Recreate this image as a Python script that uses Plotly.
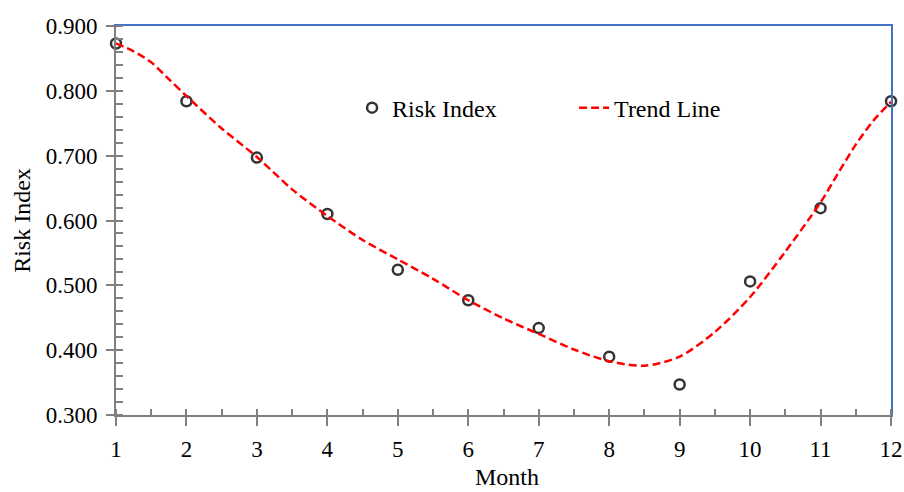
import plotly.graph_objects as go

months = [1, 2, 3, 4, 5, 6, 7, 8, 9, 10, 11, 12]
risk_index = [0.873, 0.784, 0.697, 0.610, 0.524, 0.477, 0.434, 0.390, 0.347, 0.506, 0.619, 0.784]

trend_x = [1, 1.25, 1.5, 1.75, 2, 2.5, 3, 3.5, 4, 4.5, 5, 5.5, 6, 6.5, 7, 7.5, 8, 8.5, 9, 9.5, 10, 10.5,
           11, 11.25, 11.5, 11.75, 12]
trend_y = [0.873, 0.861, 0.844, 0.818, 0.792, 0.742, 0.698, 0.648, 0.607, 0.570, 0.540, 0.510, 0.477,
           0.449, 0.425, 0.401, 0.383, 0.376, 0.390, 0.428, 0.482, 0.552, 0.628, 0.673, 0.717, 0.754, 0.783]

x_ticks = months
y_ticks = [0.3, 0.4, 0.5, 0.6, 0.7, 0.8, 0.9]

FONT = "Liberation Serif"
AXC = "#7f7f7f"
BLUE = "#4472c4"
FS_TICK = 23
FS_TEXT = 24

fig = go.Figure()
# helper (empty) traces so that the overlay axes are drawn
fig.add_trace(go.Scatter(x=[None], y=[None], xaxis="x2", yaxis="y2", showlegend=False, hoverinfo="skip"))
fig.add_trace(go.Scatter(x=[None], y=[None], xaxis="x3", yaxis="y3", showlegend=False, hoverinfo="skip"))
fig.add_trace(go.Scatter(
    x=months, y=risk_index, mode="markers", name="Risk Index",
    marker=dict(symbol="circle-open", size=10, color="#333333", line=dict(width=2.5, color="#333333")),
    cliponaxis=False,
))
fig.add_trace(go.Scatter(
    x=trend_x, y=trend_y, mode="lines", name="Trend Line",
    line=dict(color="#ff0000", width=2.5, dash="8px,4px", shape="spline", smoothing=0.8),
    cliponaxis=False,
))

xr = [1, 12]
yr = [0.3, 0.9]

common = dict(showgrid=False, zeroline=False, automargin=False)

fig.update_layout(
    width=904, height=492,
    margin=dict(l=116, r=13, t=26, b=77),
    paper_bgcolor="white", plot_bgcolor="white",
    font=dict(family=FONT, size=FS_TEXT, color="black"),
    showlegend=True,
    legend=dict(orientation="h", x=0.3046, xanchor="left", y=0.789, yanchor="middle",
                bgcolor="rgba(0,0,0,0)", font=dict(family=FONT, size=FS_TEXT), entrywidth=177,
                traceorder="normal"),
    xaxis=dict(
        range=xr, tickvals=x_ticks, ticks="outside", ticklen=9, tickwidth=2, tickcolor=AXC,
        showline=True, linecolor=AXC, linewidth=2, ticklabelstandoff=3,
        minor=dict(ticks="inside", dtick=0.5, tick0=1, ticklen=6, tickwidth=2, tickcolor=AXC, showgrid=False),
        tickfont=dict(family=FONT, size=FS_TICK), **common,
    ),
    yaxis=dict(
        range=yr, tickvals=y_ticks, tickformat=".3f", ticks="outside", ticklen=8, tickwidth=2, tickcolor=AXC,
        showline=True, linecolor=AXC, linewidth=2, ticklabelstandoff=4,
        minor=dict(ticks="inside", dtick=0.02, tick0=0.3, ticklen=7, tickwidth=2, tickcolor=AXC, showgrid=False),
        title=dict(text="Risk Index", font=dict(family=FONT, size=FS_TEXT), standoff=8),
        tickfont=dict(family=FONT, size=FS_TICK), **common,
    ),
    xaxis2=dict(
        range=xr, overlaying="x", anchor="y", side="bottom", tickvals=x_ticks, ticks="inside",
        ticklen=6, tickwidth=2, tickcolor=AXC, showticklabels=False, showline=False, **common,
    ),
    yaxis2=dict(
        range=yr, overlaying="y", anchor="x", side="left", tickvals=y_ticks, ticks="inside",
        ticklen=7, tickwidth=2, tickcolor=AXC, showticklabels=False, showline=False, **common,
    ),
    xaxis3=dict(
        range=xr, overlaying="x", anchor="y", side="top", showline=True, linecolor=BLUE, linewidth=2,
        ticks="", showticklabels=False, **common,
    ),
    yaxis3=dict(
        range=yr, overlaying="y", anchor="x", side="right", showline=True, linecolor=BLUE, linewidth=2,
        ticks="", showticklabels=False, **common,
    ),
    annotations=[dict(
        text="Month", xref="paper", yref="paper", x=0.5, y=0, xanchor="center", yanchor="top",
        yshift=-47, xshift=3, showarrow=False, font=dict(family=FONT, size=FS_TEXT, color="black"),
    )],
)

fig.write_html("out.html")
